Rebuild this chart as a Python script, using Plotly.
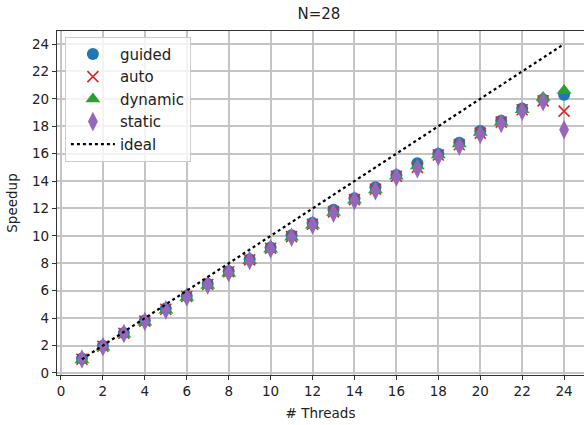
import plotly.graph_objects as go

threads = list(range(1, 25))
guided = [1.05, 1.98, 2.92, 3.82, 4.70, 5.62, 6.50, 7.42, 8.30, 9.15, 10.05, 10.95,
          11.90, 12.75, 13.55, 14.45, 15.30, 16.00, 16.80, 17.65, 18.40, 19.30, 19.95, 20.30]
auto = [1.00, 1.95, 2.90, 3.78, 4.65, 5.58, 6.45, 7.38, 8.25, 9.10, 9.95, 10.85,
        11.75, 12.65, 13.40, 14.35, 15.00, 15.90, 16.65, 17.50, 18.30, 19.20, 19.85, 19.10]
dynamic = [0.95, 1.88, 2.82, 3.70, 4.58, 5.50, 6.38, 7.28, 8.18, 9.02, 9.90, 10.78,
           11.70, 12.60, 13.35, 14.35, 15.10, 15.90, 16.70, 17.55, 18.30, 19.20, 20.10, 20.60]
static = [1.02, 1.92, 2.88, 3.75, 4.60, 5.55, 6.42, 7.32, 8.20, 9.05, 9.90, 10.80,
          11.65, 12.57, 13.30, 14.30, 14.90, 15.80, 16.55, 17.40, 18.20, 19.10, 19.80, 17.75]
ideal = list(range(1, 25))

xticks = list(range(0, 25, 2))
yticks = list(range(0, 25, 2))

FONT = "DejaVu Sans"

fig = go.Figure()
fig.add_trace(go.Scatter(x=threads, y=guided, mode="markers", name="guided",
                         marker=dict(symbol="circle", size=12, color="#1f77b4")))
fig.add_trace(go.Scatter(x=threads, y=auto, mode="markers", name="auto",
                         marker=dict(symbol="x-thin", size=11, color="#d62728",
                                     line=dict(color="#d62728", width=1.6))))
fig.add_trace(go.Scatter(x=threads, y=dynamic, mode="markers", name="dynamic",
                         marker=dict(symbol="triangle-up", size=13, color="#2ca02c")))
fig.add_trace(go.Scatter(x=threads, y=static, mode="markers", name="static",
                         marker=dict(symbol="diamond-tall", size=14, color="#9467bd")))
fig.add_trace(go.Scatter(x=threads, y=ideal, mode="lines", name="ideal",
                         line=dict(color="black", width=2.2, dash="dot")))

axis_common = dict(
    showgrid=True, gridcolor="#c4c4c4", gridwidth=1.6,
    showline=True, linecolor="#333333", linewidth=1.2,
    ticks="outside", ticklen=4, tickcolor="#333333",
    zeroline=False, tickfont=dict(family=FONT, size=13.5, color="#222222"),
)

fig.update_layout(
    width=584, height=425,
    margin=dict(l=57, r=0, t=31, b=50),
    paper_bgcolor="white", plot_bgcolor="white",
    title=dict(text="N=28", x=0.546, xanchor="center", y=0.967, yanchor="middle",
               font=dict(family=FONT, size=15, color="#222222")),
    xaxis=dict(range=[-0.19, 24.95], tickvals=xticks,
               title=dict(text="# Threads", font=dict(family=FONT, size=13.5, color="#222222"),
                          standoff=10),
               mirror=True, **axis_common),
    yaxis=dict(range=[-0.15, 24.95], tickvals=yticks,
               title=dict(text="Speedup", font=dict(family=FONT, size=13.5, color="#222222"),
                          standoff=11),
               **axis_common),
    legend=dict(x=0.015, y=0.983, xanchor="left", yanchor="top",
                bgcolor="rgba(255,255,255,0.8)", bordercolor="#cccccc", borderwidth=1,
                font=dict(family=FONT, size=15, color="#222222"),
                itemwidth=44),
    showlegend=True,
)

fig.write_html("out.html")
